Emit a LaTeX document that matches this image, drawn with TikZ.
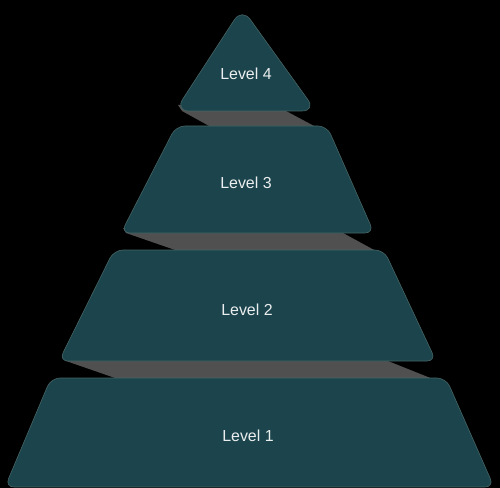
\documentclass[tikz,border=0pt]{standalone}
\usepackage{fontspec}
\setmainfont{Liberation Sans}
\definecolor{teal}{RGB}{28,68,77}
\definecolor{tealedge}{RGB}{70,100,100}
\definecolor{band}{RGB}{80,80,80}
\definecolor{labeltext}{RGB}{235,238,238}
\tikzset{
  levelshape/.style={fill=teal, draw=tealedge, line width=0.6bp, rounded corners=9bp},
  bandshape/.style={fill=band},
  leveltext/.style={text=labeltext, font=\fontsize{16}{19}\selectfont, inner sep=0pt}
}
\begin{document}
\begin{tikzpicture}[x=1bp,y=-1bp]
\fill[black] (0,0) rectangle (500,488);
\useasboundingbox (0,0) rectangle (500,488);
% side bands
\fill[bandshape] (178,105) -- (182,111) -- (211,127) -- (316,127) -- (286,111) -- (286,105) -- cycle;
\fill[bandshape] (123,228) -- (126,233) -- (178,251) -- (376,251) -- (343,233) -- (343,228) -- cycle;
\fill[bandshape] (62,356) -- (66,361) -- (118,379) -- (433,379) -- (388,361) -- (388,356) -- cycle;
% levels
\draw[levelshape, rounded corners=14bp] (242,8) -- (316,111) -- (175,111) -- cycle;
\draw[levelshape] (176,126) -- (327,126) -- (374,233) -- (121,233) -- cycle;
\draw[levelshape] (114,250) -- (384,250) -- (436,361) -- (59,361) -- cycle;
\draw[levelshape] (51,378) -- (446,378) -- (494,487) -- (5,487) -- cycle;
% labels
\node[leveltext] (l4) at (246,74) {Level 4};
\node[leveltext] (l3) at (246,183) {Level 3};
\node[leveltext] (l2) at (247,310) {Level 2};
\node[leveltext] (l1) at (248,436) {Level 1};
\end{tikzpicture}
\end{document}
